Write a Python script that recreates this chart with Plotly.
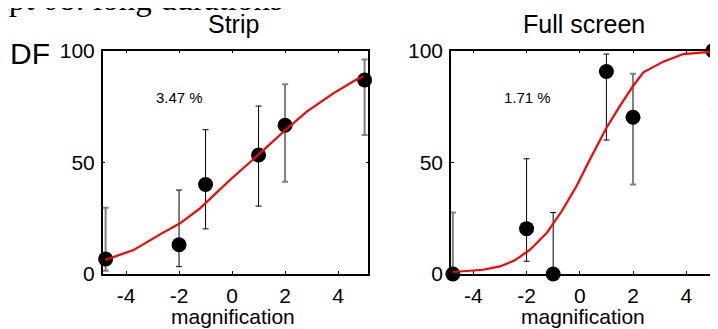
import plotly.graph_objects as go

# ---------------- data ----------------
mag = [-4.77, -2, -1, 1, 2, 5]

strip_y = [6.7, 13.1, 40.1, 53.3, 66.6, 86.9]
strip_hi = [29.7, 37.6, 64.6, 75.2, 85.0, 96.1]
strip_lo = [1.5, 3.3, 20.2, 30.4, 41.3, 62.2]

full_y = [0, 20.3, 0, 90.7, 70.2, 100]
full_hi = [27.5, 51.6, 27.5, 98.5, 89.7, 100]
full_lo = [0, 5.7, 0, 60.0, 40.1, 73.0]

strip_fit_x = [-4.79, -3.72, -2.65, -1.96, -1.21, -0.08, 1.06, 1.94, 2.82, 3.82, 4.71, 4.95]
strip_fit_y = [6.3, 10.7, 18.2, 22.7, 29.4, 42.1, 54.1, 63.7, 72.7, 80.9, 87.2, 88.4]

full_fit_x = [-4.76, -3.63, -3.0, -2.44, -1.87, -1.24, -0.68, -0.12, 0.38, 1.01, 1.51, 2.01, 2.39, 3.14, 3.89, 4.89]
full_fit_y = [0.9, 1.9, 3.4, 6.1, 10.9, 18.4, 28.1, 39.4, 51.3, 65.6, 75.3, 84.3, 90.3, 95.1, 98.5, 99.5]

panel_titles = ["Strip", "Full screen"]
fit_labels = ["3.47 %", "1.71 %"]
x_ticks = [-4, -2, 0, 2, 4]
x_tick_text = ["-4", "-2", "0", "2", "4"]
y_ticks = [0, 50, 100]

# style: which bars are drawn grey
GREY_IDX = [0, 4, 5]

W, H = 718, 329
OFF = 8  # page offset of the plot div (body margin)
SANS = "Liberation Sans, Arial, sans-serif"


def px(x):
    return (x - OFF) / W


def py(y):
    return 1 - (y - OFF) / H


fig = go.Figure()


def add_panel(xa, ya, yv, hi, lo, fx, fy):
    groups = [
        ([i for i in range(len(mag)) if i not in GREY_IDX], "#000000", 1),
        (GREY_IDX, "#808080", 2),
    ]
    for idx, col, th in groups:
        xs = [mag[i] for i in idx]
        ys = [yv[i] for i in idx]
        up = [hi[i] - yv[i] for i in idx]
        dn = [yv[i] - lo[i] for i in idx]
        fig.add_trace(go.Scatter(
            x=xs, y=ys, mode="markers", xaxis=xa, yaxis=ya,
            marker=dict(size=15, color="black"),
            error_y=dict(type="data", symmetric=False, array=up, arrayminus=dn,
                         color=col, thickness=th, width=3),
            cliponaxis=False, showlegend=False,
        ))
    fig.add_trace(go.Scatter(
        x=fx, y=fy, mode="lines", xaxis=xa, yaxis=ya,
        line=dict(color="#ff0000", width=2.2),
        cliponaxis=False, showlegend=False,
    ))


add_panel("x", "y", strip_y, strip_hi, strip_lo, strip_fit_x, strip_fit_y)
add_panel("x2", "y2", full_y, full_hi, full_lo, full_fit_x, full_fit_y)

ydom = [py(274), py(50.7)]
axis_common = dict(
    showline=True, linecolor="black", linewidth=1.5, mirror="ticks",
    ticks="inside", ticklen=3, tickcolor="black", tickwidth=1,
    showgrid=False, zeroline=False, automargin=False,
    tickfont=dict(family=SANS, size=21, color="black"),
)

fig.update_layout(
    template="none",
    width=W, height=H,
    margin=dict(l=0, r=0, t=0, b=0, pad=0),
    paper_bgcolor="white", plot_bgcolor="white",
    xaxis=dict(domain=[px(102.7), px(368.3)], range=[-4.88, 5.14],
               tickvals=x_ticks, ticktext=x_tick_text, anchor="y",
               ticklabelstandoff=2, **axis_common),
    yaxis=dict(domain=ydom, range=[0, 100], tickvals=y_ticks, anchor="x",
               ticklabelstandoff=2, **axis_common),
    xaxis2=dict(domain=[px(451), px(716.3)], range=[-4.84, 5.13],
                tickvals=x_ticks, ticktext=x_tick_text, anchor="y2",
                ticklabelstandoff=2, **axis_common),
    yaxis2=dict(domain=ydom, range=[0, 100], tickvals=y_ticks, anchor="x2",
                ticklabelstandoff=2, **axis_common),
)

ann = []
# cut-off figure title
ann.append(dict(text="Expt 08: long durations", x=px(285), y=py(19),
                xref="paper", yref="paper", xanchor="right", yanchor="bottom",
                showarrow=False, font=dict(family="Liberation Serif, Times New Roman, serif", size=33, color="black")))
# DF label
ann.append(dict(text="DF", x=px(30), y=py(53), xref="paper", yref="paper",
                xanchor="center", yanchor="middle", showarrow=False,
                font=dict(family=SANS, size=30, color="black")))
for cx, title, lab, lx in [(233.5, panel_titles[0], fit_labels[0], 179.5),
                           (583.5, panel_titles[1], fit_labels[1], 527.5)]:
    ann.append(dict(text=title, x=px(cx), y=py(24), xref="paper", yref="paper",
                    xanchor="center", yanchor="middle", showarrow=False,
                    font=dict(family=SANS, size=25, color="black")))
    ann.append(dict(text=lab, x=px(lx), y=py(97), xref="paper", yref="paper",
                    xanchor="center", yanchor="middle", showarrow=False,
                    font=dict(family=SANS, size=15, color="black")))
    ann.append(dict(text="magnification", x=px(cx - 1), y=py(316), xref="paper", yref="paper",
                    xanchor="center", yanchor="middle", showarrow=False,
                    font=dict(family=SANS, size=21, color="black")))
fig.update_layout(annotations=ann)

fig.write_html("out.html")
